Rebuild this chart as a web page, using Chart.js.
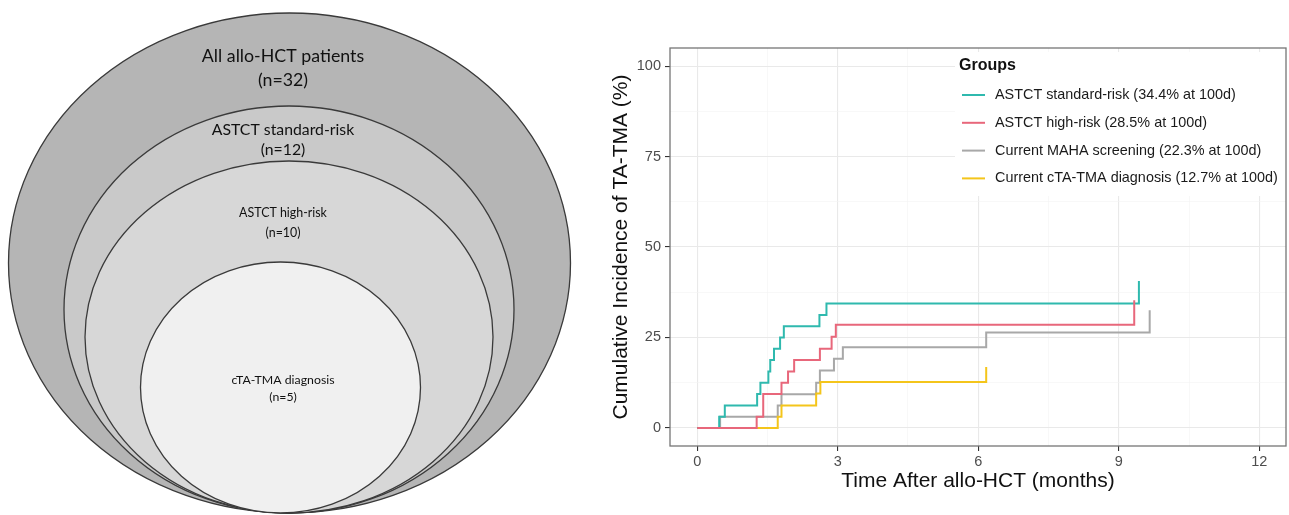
<!DOCTYPE html>
<html>
<head>
<meta charset="utf-8">
<script src="https://cdn.jsdelivr.net/npm/chart.js@4.4.1/dist/chart.umd.min.js"></script>
<style>
  html, body { margin: 0; padding: 0; background: #fff; }
  body { width: 1289px; height: 515px; position: relative; overflow: hidden; }
  #vennBox { position: absolute; left: 0; top: 0; width: 580px; height: 515px; }
  #ciBox { position: absolute; left: 590px; top: 0; width: 699px; height: 515px; }
</style>
</head>
<body>
<div id="vennBox"><canvas id="vennChart"></canvas></div>
<div id="ciBox"><canvas id="ciChart"></canvas></div>
<script>
// nested groups (euler diagram), drawn in diagram units
const vennGroups = ['All allo-HCT patients', 'ASTCT standard-risk', 'ASTCT high-risk', 'cTA-TMA diagnosis'];
const vennCounts = [32, 12, 10, 5];
const vennCx = [289.5, 289, 289, 280.5];
const vennCy = [263, 309.5, 337, 387.5];
const vennRx = [281, 225, 204, 140];
const vennRy = [250, 203.5, 176, 125.5];

// cumulative incidence, time in months, value in %
const groupLabels = [
    'ASTCT standard-risk (34.4% at 100d)',
    'ASTCT high-risk (28.5% at 100d)',
    'Current MAHA screening (22.3% at 100d)',
    'Current cTA-TMA diagnosis (12.7% at 100d)'
];
const stdRiskTime = [0, 0.47, 0.59, 1.28, 1.35, 1.52, 1.56, 1.64, 1.77, 1.85, 2.61, 2.76, 9.43];
const stdRiskCI   = [0, 3.1, 6.2, 9.4, 12.5, 15.6, 18.8, 21.9, 25.0, 28.1, 31.2, 34.4, 40.6];
const highRiskTime = [0, 1.27, 1.41, 1.80, 1.94, 2.07, 2.62, 2.87, 2.96, 9.33];
const highRiskCI   = [0, 3.1, 9.4, 12.5, 15.6, 18.8, 21.9, 25.2, 28.5, 35.3];
const mahaTime = [0, 0.49, 1.72, 1.80, 2.54, 2.62, 2.92, 3.11, 6.17, 9.66];
const mahaCI   = [0, 3.1, 6.2, 9.3, 12.5, 15.9, 19.1, 22.3, 26.4, 32.5];
const ctaTime = [0, 1.72, 1.80, 2.54, 2.63, 6.17];
const ctaCI   = [0, 3.1, 6.2, 9.5, 12.7, 16.8];

const xTicks = [0, 3, 6, 9, 12];
const xMinor = [1.5, 4.5, 7.5, 10.5];
const yTicks = [0, 25, 50, 75, 100];
const yMinor = [12.5, 37.5, 62.5, 87.5];

const seriesColors = ['#2fb9ae', '#e8677b', '#a8a8a8', '#f4c51b'];

// ---------- left: euler diagram ----------
const vennFills = ['#b5b5b5', '#c9c9c9', '#d7d7d7', '#f0f0f0'];
const vennFontSize = [17.8, 15.8, 12.4, 12.3];
const vennLabelOffset = [-207, -180, -124, -7]; // from centre, diagram units
const vennLineGap = [24, 20.5, 20, 17];

const vennPlugin = {
    id: 'venn',
    beforeDatasetsDraw(chart) {
        const ctx = chart.ctx;
        const xs = chart.scales.x, ys = chart.scales.y;
        ctx.save();
        for (let i = 0; i < vennGroups.length; i++) {
            const px = xs.getPixelForValue(vennCx[i]);
            const py = ys.getPixelForValue(vennCy[i]);
            const rx = Math.abs(xs.getPixelForValue(vennCx[i] + vennRx[i]) - px);
            const ry = Math.abs(ys.getPixelForValue(vennCy[i] + vennRy[i]) - py);
            ctx.beginPath();
            ctx.ellipse(px, py, rx, ry, 0, 0, Math.PI * 2);
            ctx.fillStyle = vennFills[i];
            ctx.fill();
            ctx.lineWidth = 1.3;
            ctx.strokeStyle = '#3a3a3a';
            ctx.stroke();
        }
        ctx.fillStyle = '#111111';
        ctx.textAlign = 'center';
        ctx.textBaseline = 'middle';
        for (let i = 0; i < vennGroups.length; i++) {
            const px = xs.getPixelForValue(283);
            const py = ys.getPixelForValue(vennCy[i] + vennLabelOffset[i]);
            ctx.font = vennFontSize[i] + 'px Lato, "Open Sans", sans-serif';
            ctx.fillText(vennGroups[i], px, py);
            ctx.fillText('(n=' + vennCounts[i] + ')', px, py + vennLineGap[i]);
        }
        ctx.restore();
    }
};

new Chart(document.getElementById('vennChart'), {
    type: 'scatter',
    data: {
        datasets: [{
            data: vennCx.map((x, i) => ({ x: x, y: vennCy[i] })),
            pointRadius: 0
        }]
    },
    options: {
        responsive: true,
        maintainAspectRatio: false,
        animation: false,
        events: [],
        layout: { padding: 0 },
        plugins: { legend: { display: false }, tooltip: { enabled: false } },
        scales: {
            x: { display: false, min: 0, max: 580 },
            y: { display: false, min: 0, max: 515, reverse: true }
        }
    },
    plugins: [vennPlugin]
});

// ---------- right: cumulative incidence ----------
const times = [stdRiskTime, highRiskTime, mahaTime, ctaTime];
const values = [stdRiskCI, highRiskCI, mahaCI, ctaCI];
const drawOrder = [1, 0, 3, 2];

const panelPlugin = {
    id: 'panel',
    afterDatasetsDraw(chart) {
        const ctx = chart.ctx;
        const a = chart.chartArea;
        ctx.save();
        // legend box
        const lx = 955, ly = 52;
        const left = lx - 590;
        ctx.fillStyle = '#ffffff';
        ctx.fillRect(left, ly, a.right - left, 144);
        ctx.fillStyle = '#111111';
        ctx.textBaseline = 'middle';
        ctx.textAlign = 'left';
        ctx.font = 'bold 16px "Liberation Sans", Arial, sans-serif';
        ctx.fillText('Groups', left + 4, 66);
        ctx.font = '14.4px "Liberation Sans", Arial, sans-serif';
        chart.data.datasets.forEach((ds, i) => {
            const y = 95 + i * 27.8;
            ctx.strokeStyle = ds.borderColor;
            ctx.lineWidth = 2;
            ctx.beginPath();
            ctx.moveTo(left + 7, y);
            ctx.lineTo(left + 30, y);
            ctx.stroke();
            ctx.fillStyle = '#1a1a1a';
            ctx.fillText(ds.label, left + 40, y);
        });
        // panel border
        ctx.strokeStyle = '#767676';
        ctx.lineWidth = 1.3;
        ctx.strokeRect(a.left, a.top, a.right - a.left, a.bottom - a.top);
        ctx.restore();
    }
};

const isMajorX = v => xTicks.includes(v);
const isMajorY = v => yTicks.includes(v);
const tickFont = { family: '"Liberation Sans", Arial, sans-serif', size: 14.5 };

new Chart(document.getElementById('ciChart'), {
    type: 'line',
    data: {
        datasets: groupLabels.map((label, i) => ({
            label: label,
            data: times[i].map((t, k) => ({ x: t, y: values[i][k] })),
            borderColor: seriesColors[i],
            backgroundColor: seriesColors[i],
            borderWidth: 2,
            pointRadius: 0,
            stepped: true,
            fill: false,
            order: drawOrder[i]
        }))
    },
    options: {
        responsive: true,
        maintainAspectRatio: false,
        animation: false,
        events: [],
        layout: { padding: { top: 48, right: 3, left: 0, bottom: 0 } },
        plugins: { legend: { display: false }, tooltip: { enabled: false } },
        scales: {
            x: {
                type: 'linear',
                min: -0.58,
                max: 12.57,
                afterBuildTicks: s => { s.ticks = xTicks.concat(xMinor).sort((a, b) => a - b).map(v => ({ value: v })); },
                afterFit: s => { s.height = 69; },
                ticks: {
                    autoSkip: false,
                    maxRotation: 0,
                    padding: 2,
                    color: '#4d4d4d',
                    font: tickFont,
                    callback: v => isMajorX(v) ? String(v) : ''
                },
                grid: {
                    color: c => isMajorX(c.tick.value) ? '#e9e9e9' : '#f3f3f3',
                    lineWidth: c => isMajorX(c.tick.value) ? 1.1 : 0.6,
                    tickColor: c => isMajorX(c.tick.value) ? '#333333' : 'rgba(0,0,0,0)',
                    tickLength: 5
                },
                border: { display: false },
                title: {
                    display: true,
                    text: 'Time After allo-HCT (months)',
                    color: '#111111',
                    font: { family: '"Liberation Sans", Arial, sans-serif', size: 21 },
                    padding: { top: 0, bottom: 20.7 }
                }
            },
            y: {
                type: 'linear',
                min: -5,
                max: 105,
                afterBuildTicks: s => { s.ticks = yTicks.concat(yMinor).sort((a, b) => a - b).map(v => ({ value: v })); },
                afterFit: s => { s.width = 80; },
                ticks: {
                    autoSkip: false,
                    padding: 4,
                    color: '#4d4d4d',
                    font: tickFont,
                    callback: v => isMajorY(v) ? String(v) : ''
                },
                grid: {
                    color: c => isMajorY(c.tick.value) ? '#e9e9e9' : '#f3f3f3',
                    lineWidth: c => isMajorY(c.tick.value) ? 1.1 : 0.6,
                    tickColor: c => isMajorY(c.tick.value) ? '#333333' : 'rgba(0,0,0,0)',
                    tickLength: 5
                },
                border: { display: false },
                title: {
                    display: true,
                    text: 'Cumulative Incidence of TA-TMA (%)',
                    color: '#111111',
                    font: { family: '"Liberation Sans", Arial, sans-serif', size: 21 },
                    padding: { top: 18.4, bottom: 0 }
                }
            }
        }
    },
    plugins: [panelPlugin]
});
</script>
</body>
</html>
